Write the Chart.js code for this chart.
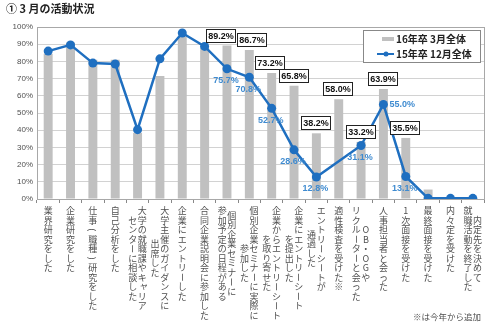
<!DOCTYPE html>
<html>
<head>
<meta charset="utf-8">
<script src="https://cdn.jsdelivr.net/npm/chart.js@4.4.1/dist/chart.umd.min.js"></script>
<style>
html, body { margin: 0; padding: 0; background: #fff; }
#wrap { width: 500px; height: 323px; position: relative; }
</style>
</head>
<body>
<div id="wrap"><canvas id="chart" width="500" height="323"></canvas></div>
<script>
var TITLE = '① 3 月の活動状況';
var FOOTNOTE = '※は今年から追加';
var SERIES_NAMES = ['16年卒 3月全体', '15年卒 12月全体'];

// each category label is a list of vertical columns, first one drawn rightmost
var categories = [
    ['業界研究をした'],
    ['企業研究をした'],
    ['仕事(職種)研究をした'],
    ['自己分析をした'],
    ['大学の就職課やキャリア', 'センターに相談した'],
    ['大学主催のガイダンスに', '出席した'],
    ['企業にエントリーした'],
    ['合同企業説明会に参加した'],
    ['個別企業セミナーに', '参加予定の日程がある'],
    ['個別企業セミナーに実際に', '参加した'],
    ['企業からエントリーシート', 'を取り寄せた'],
    ['企業にエントリーシート', 'を提出した'],
    ['エントリーシートが', '通過した'],
    ['適性検査を受けた※'],
    ['OB・OGや', 'リクルーターと会った'],
    ['人事担当者と会った'],
    ['1次面接を受けた'],
    ['最終面接を受けた'],
    ['内々定を受けた'],
    ['内定先を決めて', '就職活動を終了した']
];
var grad16March = [84.5, 91, 81, 81, 38.5, 71.5, 94.5, 88, 89.2, 86.7, 73.2, 65.8, 38.2, 58.0, 33.2, 63.9, 35.5, 5.5, 1, 0.5];
var grad15Dec = [86, 89.6, 79, 78.5, 40.3, 81.5, 96.5, 88.7, 75.7, 70.8, 52.7, 28.6, 12.8, null, 31.1, 55.0, 13.1, 0.4, 0.4, 0.4];
var yTicks = [0, 10, 20, 30, 40, 50, 60, 70, 80, 90, 100];

// which points get value labels
var barLabelIdx = [8, 9, 10, 11, 12, 13, 14, 15, 16];
var lineLabelIdx = [8, 9, 10, 11, 12, 14, 15, 16];
var lineLabelRight = [15];
// small sideways nudges so neighbouring boxes do not overlap
var barLabelNudge = { 8: -5, 9: 3, 10: -1 };

var BAR_COLOR = '#c0c0c0';
var LINE_COLOR = '#1f6fc0';
var LINE_LABEL_COLOR = '#3f8bd0';
var TEXT_COLOR = '#505050';
var CJK = '"Noto Sans CJK JP", "Noto Sans", sans-serif';

function pct(v) { return v.toFixed(1) + '%'; }

function drawVertical(ctx, cols, cx, top) {
    var pitch = 9.5, colW = 9.6;
    var maxLen = 0;
    cols.forEach(function(c) { maxLen = Math.max(maxLen, Array.from(c).length); });
    cols.forEach(function(col, j) {
        var chars = Array.from(col);
        var x = cx + ((cols.length - 1) / 2 - j) * colW;
        var y0 = top + (maxLen - chars.length) / 2 * pitch;
        chars.forEach(function(ch, k) {
            var y = y0 + k * pitch + pitch / 2;
            if ('ー()（）'.indexOf(ch) >= 0) {
                ctx.save();
                ctx.translate(x, y);
                ctx.rotate(Math.PI / 2);
                ctx.fillText(ch, 0, 0);
                ctx.restore();
            } else if ('ッャュョァィ'.indexOf(ch) >= 0) {
                ctx.fillText(ch, x + 1.5, y - 1.5);
            } else {
                ctx.fillText(ch, x, y);
            }
        });
    });
}

var decorPlugin = {
    id: 'decor',
    beforeDatasetsDraw: function(chart) {
        var ctx = chart.ctx, a = chart.chartArea;
        ctx.save();
        ctx.strokeStyle = '#a8a8a8';
        ctx.lineWidth = 1;
        ctx.strokeRect(Math.round(a.left) + 0.5, Math.round(a.top) + 0.5, Math.round(a.right - a.left), Math.round(a.bottom - a.top));
        ctx.restore();
    },
    afterDraw: function(chart) {
        var ctx = chart.ctx, a = chart.chartArea;
        var xs = chart.scales.x, ys = chart.scales.y;
        ctx.save();

        // title
        ctx.fillStyle = '#222';
        ctx.font = 'bold 11px ' + CJK;
        ctx.textAlign = 'left';
        ctx.textBaseline = 'middle';
        ctx.fillText(TITLE, 6, 9);

        // vertical category labels
        ctx.fillStyle = TEXT_COLOR;
        ctx.font = '9px ' + CJK;
        ctx.textAlign = 'center';
        ctx.textBaseline = 'middle';
        categories.forEach(function(cols, i) {
            drawVertical(ctx, cols, xs.getPixelForValue(i), a.bottom + 7);
        });

        // footnote
        ctx.textAlign = 'right';
        ctx.font = '8.5px ' + CJK;
        ctx.fillText(FOOTNOTE, 481, 317);

        // boxed bar labels
        ctx.font = 'bold 9px "Liberation Sans", Arial, sans-serif';
        ctx.textAlign = 'center';
        ctx.textBaseline = 'middle';
        barLabelIdx.forEach(function(i) {
            var x = xs.getPixelForValue(i) - 1 + (barLabelNudge[i] || 0);
            var yTop = ys.getPixelForValue(grad16March[i]);
            var t = pct(grad16March[i]);
            var w = Math.round(ctx.measureText(t).width + 3), h = 13;
            var bx = Math.round(x - w / 2) + 0.5, by = Math.round(yTop - 4 - h) + 0.5;
            ctx.fillStyle = '#fff';
            ctx.fillRect(bx, by, w, h);
            ctx.strokeStyle = '#222';
            ctx.lineWidth = 1;
            ctx.strokeRect(bx, by, w, h);
            ctx.fillStyle = '#111';
            ctx.fillText(t, bx + w / 2, by + h / 2 + 0.5);
        });

        // blue line labels
        ctx.fillStyle = LINE_LABEL_COLOR;
        lineLabelIdx.forEach(function(i) {
            var x = xs.getPixelForValue(i);
            var y = ys.getPixelForValue(grad15Dec[i]);
            if (lineLabelRight.indexOf(i) >= 0) {
                ctx.textAlign = 'left';
                ctx.fillText(pct(grad15Dec[i]), x + 6, y);
            } else {
                ctx.textAlign = 'center';
                ctx.fillText(pct(grad15Dec[i]), x - 1, y + 12);
            }
        });

        // legend box
        var lx = 363.5, ly = 30.5, lw = 117, lh = 32;
        ctx.fillStyle = '#fff';
        ctx.fillRect(lx, ly, lw, lh);
        ctx.strokeStyle = '#888';
        ctx.strokeRect(lx, ly, lw, lh);
        ctx.font = 'bold 10px ' + CJK;
        ctx.textAlign = 'left';
        ctx.fillStyle = '#222';
        ctx.fillText(SERIES_NAMES[0], 396, 39);
        ctx.fillText(SERIES_NAMES[1], 396, 54);
        ctx.fillStyle = BAR_COLOR;
        ctx.fillRect(382, 37, 12, 4);
        ctx.strokeStyle = LINE_COLOR;
        ctx.lineWidth = 2;
        ctx.beginPath();
        ctx.moveTo(377, 54);
        ctx.lineTo(394, 54);
        ctx.stroke();
        ctx.fillStyle = LINE_COLOR;
        ctx.beginPath();
        ctx.arc(386, 54, 2.5, 0, Math.PI * 2);
        ctx.fill();

        ctx.restore();
    }
};

new Chart(document.getElementById('chart').getContext('2d'), {
    data: {
        labels: categories.map(function(c) { return c.join(''); }),
        datasets: [{
            type: 'line',
            label: SERIES_NAMES[1],
            data: grad15Dec,
            borderColor: LINE_COLOR,
            backgroundColor: LINE_COLOR,
            borderWidth: 2.5,
            pointRadius: 4.5,
            pointBackgroundColor: LINE_COLOR,
            pointBorderWidth: 0,
            spanGaps: true,
            tension: 0,
            order: 0
        }, {
            type: 'bar',
            label: SERIES_NAMES[0],
            data: grad16March,
            backgroundColor: BAR_COLOR,
            borderWidth: 0,
            barPercentage: 0.4,
            categoryPercentage: 1,
            order: 1
        }]
    },
    options: {
        responsive: false,
        animation: false,
        devicePixelRatio: 1,
        layout: { padding: { top: 27, right: 16, bottom: 120, left: 0 } },
        plugins: {
            legend: { display: false },
            title: { display: false },
            tooltip: { enabled: false }
        },
        scales: {
            x: {
                grid: { offset: true, drawOnChartArea: false, drawTicks: true, tickLength: 4, color: '#888' },
                border: { color: '#888' },
                ticks: { display: false },
                afterFit: function(s) { s.height = 4; }
            },
            y: {
                min: 0,
                max: 100,
                afterBuildTicks: function(s) { s.ticks = yTicks.map(function(v) { return { value: v }; }); },
                ticks: {
                    color: TEXT_COLOR,
                    font: { size: 8, family: '"Liberation Sans", Arial, sans-serif' },
                    padding: 4,
                    callback: function(v) { return v + '%'; }
                },
                grid: { color: '#d2d2d2', drawTicks: false },
                border: { color: '#888' },
                afterFit: function(s) { s.width = 37; }
            }
        }
    },
    plugins: [decorPlugin]
});
</script>
</body>
</html>
